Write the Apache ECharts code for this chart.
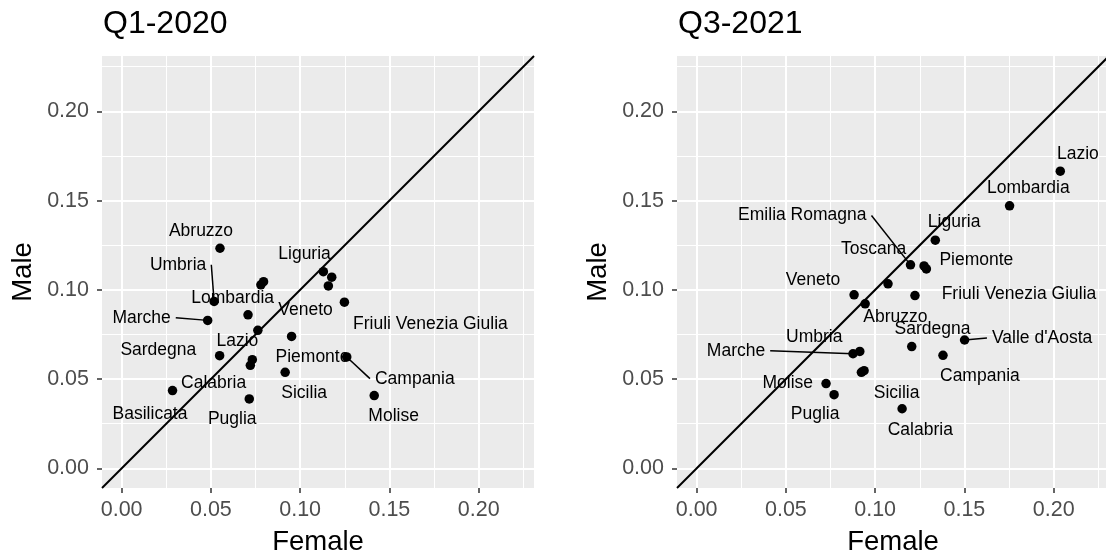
<!DOCTYPE html>
<html>
<head>
<meta charset="utf-8">
<script src="https://cdn.jsdelivr.net/npm/echarts@6/dist/echarts.min.js"></script>
<style>
  html, body { margin: 0; padding: 0; background: #ffffff; }
  #chart { width: 1106px; height: 556px; }
</style>
</head>
<body>
<div id="chart"></div>
<script>
// Italian regions: unemployment-type rates by sex, two quarters
const regions = [
  'Abruzzo', 'Basilicata', 'Calabria', 'Campania', 'Emilia Romagna',
  'Friuli Venezia Giulia', 'Lazio', 'Liguria', 'Lombardia', 'Marche',
  'Molise', 'Piemonte', 'Puglia', 'Sardegna', 'Sicilia',
  'Toscana', 'Trentino Alto Adige', 'Umbria', "Valle d'Aosta", 'Veneto'
];

const q1Female = [
  0.0551, 0.0285, 0.0721, 0.1261, 0.1177,
  0.1248, 0.0763, 0.1130, 0.0780, 0.0482,
  0.1415, 0.0952, 0.0715, 0.0549, 0.0916,
  0.0795, 0.0708, 0.0518, 0.0732, 0.1158
];
const q1Male = [
  0.1233, 0.0436, 0.0577, 0.0624, 0.1071,
  0.0931, 0.0773, 0.1102, 0.1028, 0.0829,
  0.0408, 0.0739, 0.0389, 0.0631, 0.0538,
  0.1046, 0.0860, 0.0935, 0.0609, 0.1022
];

const q3Female = [
  0.0944, 0.0923, 0.1151, 0.1380, 0.1198,
  0.1223, 0.2037, 0.1337, 0.1753, 0.0876,
  0.0725, 0.1287, 0.0770, 0.1205, 0.0938,
  0.1072, 0.1274, 0.0914, 0.1501, 0.0882
];
const q3Male = [
  0.0922, 0.0538, 0.0334, 0.0633, 0.1140,
  0.0968, 0.1665, 0.1278, 0.1471, 0.0642,
  0.0475, 0.1117, 0.0413, 0.0682, 0.0547,
  0.1034, 0.1134, 0.0655, 0.0719, 0.0972
];

const panelTitles = ['Q1-2020', 'Q3-2021'];
const majorTicks = [0, 0.05, 0.10, 0.15, 0.20];
const minorTicks = [0.025, 0.075, 0.125, 0.175, 0.225];
const axisLow = -0.011;
const axisHigh = 0.231;

// Repelled label placement (pixel offsets from each point); regions without an entry stay unlabeled
const labelOffsetsQ1 = {
  'Abruzzo': [-19, -16.6], 'Umbria': [-36, -36.7], 'Liguria': [-18.8, -17.4],
  'Lombardia': [-28.2, 13.3], 'Veneto': [-22.8, 24], 'Piemonte': [20.9, 20.6],
  'Friuli Venezia Giulia': [86, 21.7], 'Marche': [-66.1, -2.7], 'Lazio': [-20.5, 11],
  'Sardegna': [-61.3, -5.3], 'Campania': [68.1, 21.7], 'Calabria': [-36.7, 17.6],
  'Sicilia': [19, 21.3], 'Basilicata': [-22.5, 24], 'Puglia': [-17, 20.7],
  'Molise': [19.4, 20.7]
};
const linkedQ1 = ['Umbria', 'Marche', 'Campania'];

const labelOffsetsQ3 = {
  'Abruzzo': [30.2, 13.3], 'Calabria': [18.2, 21.4], 'Campania': [36.9, 21],
  'Emilia Romagna': [-108.2, -49.3], 'Friuli Venezia Giulia': [104, -1.7],
  'Lazio': [17.6, -17], 'Liguria': [18.8, -17.6], 'Lombardia': [18.8, -18],
  'Marche': [-117, -3], 'Molise': [-38.3, -0.7], 'Piemonte': [50, -8.3],
  'Puglia': [-19, 20], 'Sardegna': [20.8, -17], 'Sicilia': [32.5, 22.3],
  'Toscana': [-14.3, -35], 'Umbria': [-45.5, -14.4], "Valle d'Aosta": [77.5, -2],
  'Veneto': [-41, -14.3]
};
const linkedQ3 = ['Emilia Romagna', 'Marche', "Valle d'Aosta"];

const FONT_FAMILY = '"Liberation Sans", Arial, sans-serif';
const LABEL_FONT = '17.5px ' + FONT_FAMILY;

const measureCtx = document.createElement('canvas').getContext('2d');
function textWidth(s) {
  measureCtx.font = LABEL_FONT;
  return measureCtx.measureText(s).width;
}

function labelRenderer(offsets, linked) {
  return function (params, api) {
    const name = regions[params.dataIndex];
    const off = offsets[name];
    if (!off) return null;
    const p = api.coord([api.value(0), api.value(1)]);
    const cx = p[0] + off[0];
    const cy = p[1] + off[1];
    const children = [{
      type: 'text',
      z2: 10,
      style: {
        text: name, x: cx, y: cy, align: 'center', verticalAlign: 'middle',
        font: LABEL_FONT, fill: '#000000'
      }
    }];
    if (linked.indexOf(name) >= 0) {
      const half = textWidth(name) / 2 + 5;
      const ex = p[0] > cx ? cx + half : cx - half;
      children.push({
        type: 'line',
        shape: { x1: p[0], y1: p[1], x2: ex, y2: cy },
        style: { stroke: '#000000', lineWidth: 1.5 }
      });
    }
    return { type: 'group', children: children };
  };
}

const fmt = v => Number(v).toFixed(2);

const grids = [
  { left: 102, top: 56, width: 432, height: 432 },
  { left: 677, top: 56, width: 432, height: 432 }
].map(g => Object.assign(g, {
  show: true, backgroundColor: '#EBEBEB', borderWidth: 0, containLabel: false,
  outerBoundsMode: 'none'
}));

function majorAxis(gridIndex, name, isY) {
  return {
    type: 'value', gridIndex: gridIndex, min: axisLow, max: axisHigh,
    position: isY ? 'left' : 'bottom',
    name: name, nameLocation: 'middle', nameGap: isY ? 65 : 40,
    nameTextStyle: { fontSize: 27.5, color: '#000000', fontFamily: FONT_FAMILY },
    axisLine: { show: false, onZero: false },
    axisTick: { show: true, length: 5, customValues: majorTicks,
      lineStyle: { color: '#333333', width: 1.5 } },
    axisLabel: { show: true, customValues: majorTicks, formatter: fmt,
      margin: isY ? 13 : 11, fontSize: 21.5, color: '#4D4D4D', fontFamily: FONT_FAMILY },
    splitLine: { show: true, lineStyle: { color: '#FFFFFF', width: 2 } }
  };
}
function minorAxis(gridIndex, isY) {
  return {
    type: 'value', gridIndex: gridIndex, min: axisLow, max: axisHigh,
    position: isY ? 'left' : 'bottom',
    axisLine: { show: false, onZero: false },
    axisTick: { show: false, customValues: minorTicks },
    axisLabel: { show: false, customValues: minorTicks },
    splitLine: { show: true, lineStyle: { color: '#FFFFFF', width: 1 } }
  };
}

const xAxes = [majorAxis(0, 'Female', false), majorAxis(1, 'Female', false), minorAxis(0, false), minorAxis(1, false)];
const yAxes = [majorAxis(0, 'Male', true), majorAxis(1, 'Male', true), minorAxis(0, true), minorAxis(1, true)];

function panelSeries(idx, female, male, offsets, linked) {
  const pts = regions.map((r, i) => [female[i], male[i]]);
  return [
    {
      type: 'line', xAxisIndex: idx, yAxisIndex: idx,
      data: [[axisLow, axisLow], [axisHigh, axisHigh]],
      showSymbol: false, silent: true,
      lineStyle: { color: '#000000', width: 2 }, z: 3
    },
    {
      type: 'scatter', xAxisIndex: idx, yAxisIndex: idx,
      data: pts, symbol: 'circle', symbolSize: 9.5,
      itemStyle: { color: '#000000', opacity: 1 }, z: 4
    },
    {
      type: 'custom', xAxisIndex: idx, yAxisIndex: idx,
      data: pts, encode: { x: 0, y: 1 },
      renderItem: labelRenderer(offsets, linked), z: 5, clip: false
    }
  ];
}

const chart = echarts.init(document.getElementById('chart'), null, { renderer: 'canvas' });
chart.setOption({
  animation: false,
  backgroundColor: '#FFFFFF',
  title: [
    { text: panelTitles[0], left: 103, top: 8, padding: 0,
      textStyle: { fontSize: 32, fontWeight: 'normal', color: '#000000', fontFamily: FONT_FAMILY } },
    { text: panelTitles[1], left: 678, top: 8, padding: 0,
      textStyle: { fontSize: 32, fontWeight: 'normal', color: '#000000', fontFamily: FONT_FAMILY } }
  ],
  grid: grids,
  xAxis: xAxes,
  yAxis: yAxes,
  series: [].concat(
    panelSeries(0, q1Female, q1Male, labelOffsetsQ1, linkedQ1),
    panelSeries(1, q3Female, q3Male, labelOffsetsQ3, linkedQ3)
  )
});
</script>
</body>
</html>
